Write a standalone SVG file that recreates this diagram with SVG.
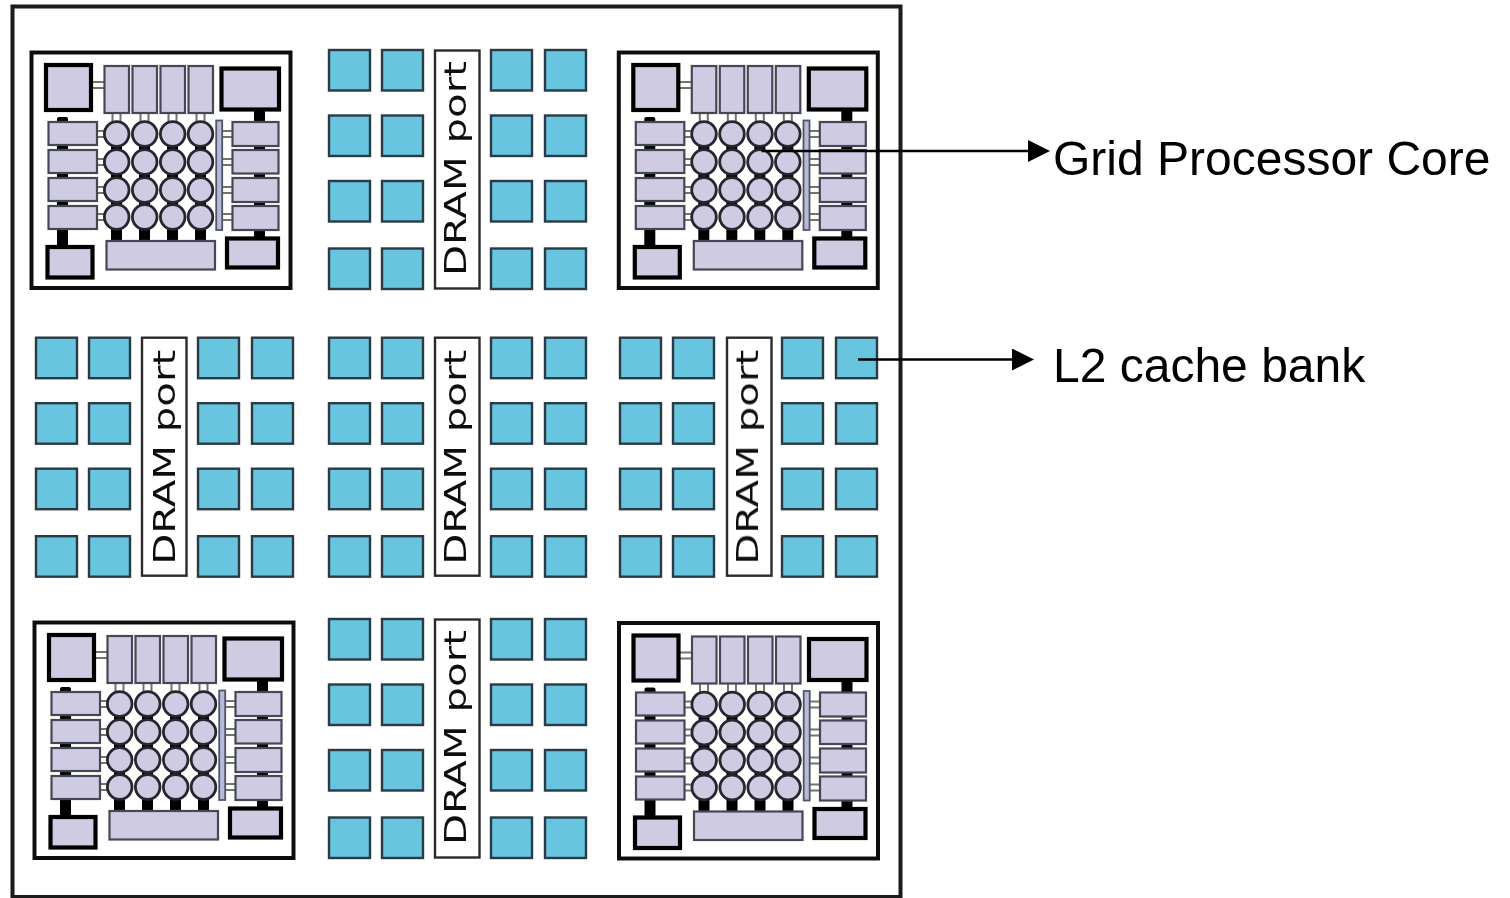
<svg xmlns="http://www.w3.org/2000/svg" width="1510" height="898" viewBox="0 0 1510 898">
<style>
.sq{fill:#67c5e0;stroke:#2a3a44;stroke-width:2.400}
.port{fill:#fff;stroke:#2c2c2c;stroke-width:2.400}
.pl{fill:#111;font-family:"DejaVu Sans",sans-serif;font-size:31px}
.lb{fill:#000;font-family:"Liberation Sans",Arial,sans-serif;font-size:48px}
.fr{fill:none;stroke:#111;stroke-width:4}
.th{fill:#cfcbe3;stroke:#000;stroke-width:4.200}
.tn{fill:#cfcbe3;stroke:#444755;stroke-width:2.200}
.c{fill:#cfcbe3;stroke:#26262e;stroke-width:2.800}
.bk{fill:#000}
.bar{fill:#b9b9da;stroke:#4f5566;stroke-width:1.800}
.w{fill:none;stroke:#6f7568;stroke-width:2}
.ar{fill:none;stroke:#000;stroke-width:2.600}
</style>
<defs>
<filter id="soft" x="-2%" y="-2%" width="104%" height="104%"><feGaussianBlur stdDeviation="0.6"/></filter>
<marker id="head" markerUnits="userSpaceOnUse" markerWidth="22" markerHeight="22" refX="0" refY="11" orient="auto"><path d="M0 0L22 11L0 22Z" fill="#000"/></marker>
<g id="squares">
<rect class="sq" x="0" y="0" width="41" height="40.5"/><rect class="sq" x="53" y="0" width="41" height="40.5"/><rect class="sq" x="162" y="0" width="41" height="40.5"/><rect class="sq" x="216" y="0" width="41" height="40.5"/>
<rect class="sq" x="0" y="65.5" width="41" height="40.5"/><rect class="sq" x="53" y="65.5" width="41" height="40.5"/><rect class="sq" x="162" y="65.5" width="41" height="40.5"/><rect class="sq" x="216" y="65.5" width="41" height="40.5"/>
<rect class="sq" x="0" y="131" width="41" height="40.5"/><rect class="sq" x="53" y="131" width="41" height="40.5"/><rect class="sq" x="162" y="131" width="41" height="40.5"/><rect class="sq" x="216" y="131" width="41" height="40.5"/>
<rect class="sq" x="0" y="198.5" width="41" height="40.5"/><rect class="sq" x="53" y="198.5" width="41" height="40.5"/><rect class="sq" x="162" y="198.5" width="41" height="40.5"/><rect class="sq" x="216" y="198.5" width="41" height="40.5"/>
</g>
<g id="core">
<rect class="fr" x="31.500" y="52.500" width="259" height="235.500"/>
<path class="w" d="M91 82H104M91 88H104M112.500 113V122M120.500 113V122M140.500 113V122M148.500 113V122M168.500 113V122M176.500 113V122M196.500 113V122M204.500 113V122M97 131H105M97 137H105M97 159H105M97 165H105M97 187H105M97 193H105M97 214H105M97 220H105M222 131H232M222 137H232M222 159H232M222 165H232M222 187H232M222 193H232M222 214H232M222 220H232"/>
<rect class="bk" x="254" y="109" width="11" height="13"/><rect class="bk" x="254" y="145" width="11" height="6"/><rect class="bk" x="254" y="173" width="11" height="6"/><rect class="bk" x="254" y="201" width="11" height="6"/><rect class="bk" x="254" y="229" width="11" height="10"/>
<rect class="bk" x="57" y="117" width="11" height="6" rx="2"/><rect class="bk" x="57" y="145" width="11" height="6"/><rect class="bk" x="57" y="173" width="11" height="6"/><rect class="bk" x="57" y="201" width="11" height="6"/><rect class="bk" x="57" y="228" width="11" height="20"/>
<path class="bk" d="M111 140h11v102h-11zM139 140h11v102h-11zM167 140h11v102h-11zM195 140h11v102h-11z"/>
<rect class="th" x="46" y="65" width="45" height="45"/>
<rect class="th" x="221.500" y="68.500" width="57.500" height="41"/>
<rect class="th" x="47.500" y="247" width="45" height="30.500"/>
<rect class="th" x="227" y="238.500" width="51" height="29"/>
<rect class="tn" x="104.500" y="66" width="24.500" height="47"/><rect class="tn" x="132.500" y="66" width="24.500" height="47"/><rect class="tn" x="160.500" y="66" width="24.500" height="47"/><rect class="tn" x="188.500" y="66" width="24.500" height="47"/>
<rect class="tn" x="48.500" y="122" width="48.500" height="23"/><rect class="tn" x="48.500" y="150" width="48.500" height="23"/><rect class="tn" x="48.500" y="178" width="48.500" height="23"/><rect class="tn" x="48.500" y="206" width="48.500" height="23"/>
<rect class="tn" x="232.500" y="122" width="46" height="24"/><rect class="tn" x="232.500" y="150" width="46" height="23.500"/><rect class="tn" x="232.500" y="178" width="46" height="24"/><rect class="tn" x="232.500" y="206" width="46" height="24"/>
<rect class="bar" x="216.200" y="120.500" width="6" height="109.500"/>
<rect class="tn" x="106.500" y="241" width="108.500" height="28.500"/>
<g id="cells">
<circle class="c" cx="116.700" cy="134" r="12.300"/><circle class="c" cx="144.700" cy="134" r="12.300"/><circle class="c" cx="172.700" cy="134" r="12.300"/><circle class="c" cx="200.500" cy="134" r="12.300"/>
<circle class="c" cx="116.700" cy="162" r="12.300"/><circle class="c" cx="144.700" cy="162" r="12.300"/><circle class="c" cx="172.700" cy="162" r="12.300"/><circle class="c" cx="200.500" cy="162" r="12.300"/>
<circle class="c" cx="116.700" cy="190" r="12.300"/><circle class="c" cx="144.700" cy="190" r="12.300"/><circle class="c" cx="172.700" cy="190" r="12.300"/><circle class="c" cx="200.500" cy="190" r="12.300"/>
<circle class="c" cx="116.700" cy="217" r="12.300"/><circle class="c" cx="144.700" cy="217" r="12.300"/><circle class="c" cx="172.700" cy="217" r="12.300"/><circle class="c" cx="200.500" cy="217" r="12.300"/>
</g>
</g>
</defs>
<rect width="1510" height="898" fill="#fff"/>
<g filter="url(#soft)">
<rect id="chip" x="12.500" y="6.500" width="888" height="890.500" fill="none" stroke="#1a1a1a" stroke-width="4"/>
<g id="core-tl"><use href="#core"/></g>
<g id="core-tr" transform="translate(587.300,0)"><use href="#core"/></g>
<g id="core-bl" transform="translate(3,570)"><use href="#core"/></g>
<g id="core-br" transform="translate(587.500,570.500)"><use href="#core"/></g>
<g id="l2-top" transform="translate(329,50)"><use href="#squares"/><rect class="port" x="106" y="0.500" width="44.500" height="238"/><text class="pl" transform="translate(137,226) rotate(-90)" textLength="215" lengthAdjust="spacingAndGlyphs">DRAM port</text></g>
<g id="l2-left" transform="translate(36,337.700)"><use href="#squares"/><rect class="port" x="106" y="0" width="44.500" height="238"/><text class="pl" transform="translate(139,227) rotate(-90)" textLength="215" lengthAdjust="spacingAndGlyphs">DRAM port</text></g>
<g id="l2-center" transform="translate(329,337.700)"><use href="#squares"/><rect class="port" x="106" y="0" width="44.500" height="238"/><text class="pl" transform="translate(137,227) rotate(-90)" textLength="215" lengthAdjust="spacingAndGlyphs">DRAM port</text></g>
<g id="l2-right" transform="translate(620,337.700)"><use href="#squares"/><rect class="port" x="107" y="0" width="44.500" height="238"/><text class="pl" transform="translate(138,227) rotate(-90)" textLength="215" lengthAdjust="spacingAndGlyphs">DRAM port</text></g>
<g id="l2-bottom" transform="translate(329,619)"><use href="#squares"/><rect class="port" x="106" y="0.500" width="44.500" height="238"/><text class="pl" transform="translate(137,226) rotate(-90)" textLength="215" lengthAdjust="spacingAndGlyphs">DRAM port</text></g>
</g>
<g id="connectors">
<path class="ar" d="M761.500 151H1028" marker-end="url(#head)"/>
<path class="ar" d="M858 359.500H1012" marker-end="url(#head)"/>
</g>
<g id="label-core"><text class="lb" x="1053" y="175">Grid Processor Core</text></g>
<g id="label-l2"><text class="lb" x="1053" y="382">L2 cache bank</text></g>
</svg>
